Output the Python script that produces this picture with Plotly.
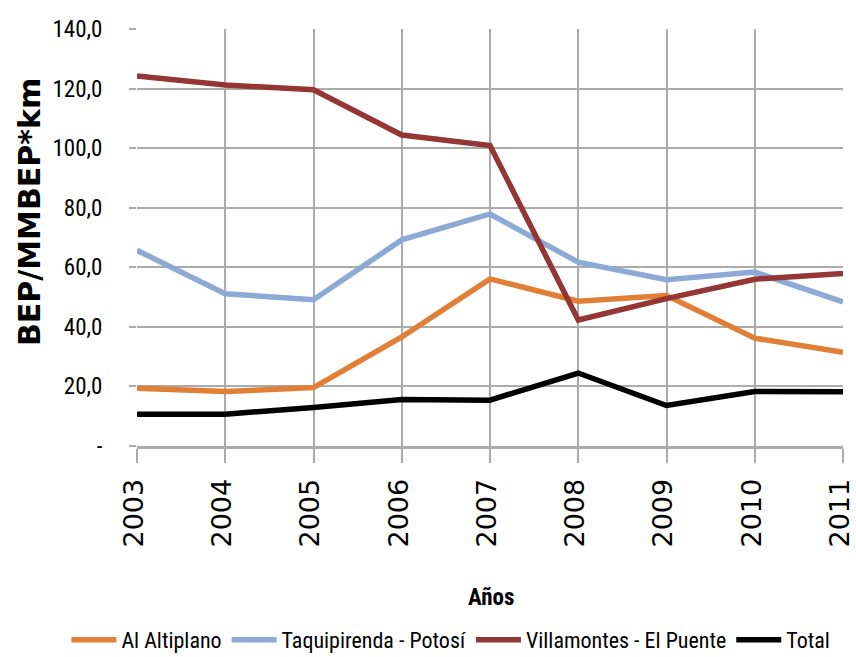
import plotly.graph_objects as go

years = [2003, 2004, 2005, 2006, 2007, 2008, 2009, 2010, 2011]
altiplano = [19.4, 18.3, 19.6, 36.6, 56.1, 48.6, 50.5, 36.2, 31.5]
taquipirenda = [65.7, 51.1, 49.1, 69.2, 77.9, 61.7, 55.8, 58.4, 48.4]
villamontes = [124.2, 121.2, 119.6, 104.4, 100.9, 42.3, 49.5, 56.0, 57.9]
total = [10.7, 10.7, 12.9, 15.6, 15.4, 24.5, 13.6, 18.3, 18.2]

series_names = ["Al Altiplano", "Taquipirenda - Potosí", "Villamontes - El Puente", "Total"]
series_colors = ["#E07F35", "#8DA9D5", "#943634", "#000000"]

y_tickvals = [0, 20, 40, 60, 80, 100, 120, 140]
y_ticktext = ["-", "20,0", "40,0", "60,0", "80,0", "100,0", "120,0", "140,0"]

NARROW = "Liberation Sans Narrow, Arial Narrow, Roboto Condensed, sans-serif"
WIDE = "DejaVu Sans, Verdana, sans-serif"

fig = go.Figure()
for name, vals, col in zip(series_names, [altiplano, taquipirenda, villamontes, total], series_colors):
    fig.add_trace(go.Scatter(x=years, y=vals, mode="lines", name=name,
                             line=dict(color=col, width=5.5)))

fig.update_layout(
    width=856, height=657,
    margin=dict(l=137, r=13, t=29, b=211, autoexpand=False),
    paper_bgcolor="white", plot_bgcolor="white",
    showlegend=True,
    legend=dict(orientation="h", x=-0.1, xanchor="left", y=-0.465, yanchor="middle",
                font=dict(family=NARROW, size=22, color="#000000"),
                itemwidth=45, tracegroupgap=0),
    annotations=[
        dict(text="<b>Años</b>", x=0.501, y=-0.3645, xref="paper", yref="paper",
             xanchor="center", yanchor="middle", showarrow=False,
             font=dict(family=NARROW, size=23, color="#000000")),
        dict(text="<b>BEP/MMBEP*km</b>", x=-0.153, y=0.561, xref="paper", yref="paper",
             xanchor="center", yanchor="middle", showarrow=False, textangle=-90,
             font=dict(family=WIDE, size=30, color="#000000")),
    ],
)

fig.update_xaxes(
    range=[2003, 2011], tickmode="array", tickvals=years, ticktext=[str(y) for y in years],
    tickangle=-90, showgrid=True, gridcolor="#ababab", gridwidth=1.5,
    ticks="outside", ticklen=14, tickcolor="#ababab", tickwidth=1.5,
    showline=True, linecolor="#ababab", linewidth=3,
    tickfont=dict(family=WIDE, size=27, color="#000000"),
    ticklabelstandoff=5, ticklabelshift=-3, zeroline=False, automargin=False,
    ticklabeloverflow="allow",
)
fig.update_yaxes(
    range=[0, 140], tickmode="array", tickvals=y_tickvals, ticktext=y_ticktext,
    showgrid=True, gridcolor="#ababab", gridwidth=1.5,
    ticks="outside", ticklen=7, tickcolor="#ababab", tickwidth=1.5,
    showline=False, zeroline=False, automargin=False,
    tickfont=dict(family=NARROW, size=23, color="#000000"),
    ticklabelstandoff=22,
)

fig.write_html("out.html")
